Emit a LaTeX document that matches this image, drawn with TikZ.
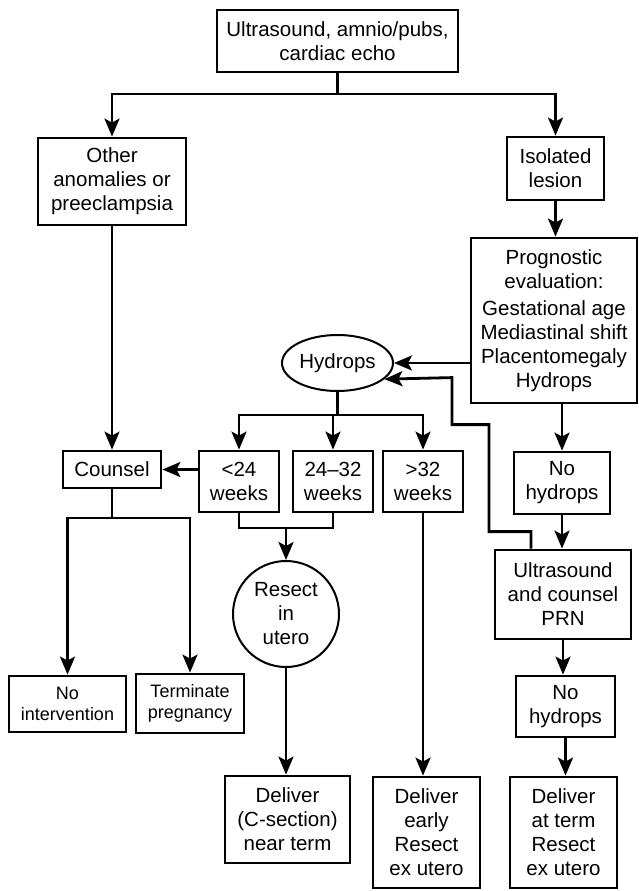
\documentclass[tikz,border=0pt]{standalone}
\usepackage{fontspec}
\setmainfont{Liberation Sans}
\usetikzlibrary{arrows.meta,calc,shapes.geometric}

\begin{document}
\begin{tikzpicture}[x=1pt, y=-1pt, >={Stealth[length=18pt,width=15pt,inset=4pt]},
		line width=2.8pt, font=\fontsize{20.5}{24}\selectfont,
		box/.style={draw, rectangle, align=center, inner sep=0pt},
		wh/.style 2 args={minimum width=#1, minimum height=#2},
		small/.style={font=\fontsize{18}{21}\selectfont}]
	\useasboundingbox (0,0) rectangle (639,891);
	% top of the chart
	\node[box, wh={241pt}{62pt}] (top) at (337.5,41) {Ultrasound, amnio/pubs,\\cardiac echo};
	\node[box, wh={148pt}{87pt}] (other) at (112,181.5) {Other\\anomalies or\\preeclampsia};
	\node[box, wh={97pt}{63pt}] (isolated) at (555.5,168.5) {Isolated\\lesion};
	\node[box, wh={166pt}{165pt}] (prog) at (554,320.5) {Prognostic\\evaluation:\\[3pt]Gestational age\\Mediastinal shift\\Placentomegaly\\Hydrops};
	\node[draw, ellipse, line width=2pt, inner sep=0pt, wh={111pt}{56pt}] (hydrops) at (337.5,363) {Hydrops};
	% middle row
	\node[box, wh={98pt}{37pt}] (counsel) at (112,469.5) {Counsel};
	\node[box, wh={80pt}{61pt}] (lt24) at (239,481.5) {<24\\weeks};
	\node[box, wh={80pt}{61pt}] (mid) at (333,481.5) {24--32\\weeks};
	\node[box, wh={80pt}{61pt}] (gt32) at (423,481.5) {>32\\weeks};
	\node[box, wh={96pt}{62pt}] (nohyd1) at (562,483) {No\\hydrops};
	\node[box, wh={136pt}{89pt}] (uscounsel) at (563,594.5) {Ultrasound\\and counsel\\PRN};
	\node[draw, circle, line width=2pt, inner sep=0pt, minimum size=106pt, align=center] (resect) at (286,614) {Resect\\in\\utero};
	% bottom row
	\node[box, small, wh={117pt}{56pt}] (noint) at (67.5,704) {No\\intervention};
	\node[box, small, wh={108pt}{59pt}] (term) at (190,703.5) {Terminate\\pregnancy};
	\node[box, wh={99pt}{61pt}] (nohyd2) at (565.5,706.5) {No\\hydrops};
	\node[box, wh={125pt}{87pt}] (delcs) at (287.5,819.5) {Deliver\\(C-section)\\near term};
	\node[box, wh={107pt}{111pt}] (delearly) at (426.5,832.5) {Deliver\\early\\Resect\\ex utero};
	\node[box, wh={107pt}{111pt}] (delterm) at (563.5,832.5) {Deliver\\at term\\Resect\\ex utero};

	% branch points
	\coordinate (split1) at (337.5,94);
	\coordinate (split2) at (337.5,415);
	\coordinate (split3) at (112,518);
	\coordinate (merge) at (286,528);

	\draw (top.south) -- (split1);
	\draw[->] (split1) -| (other.north);
	\draw[->] (split1) -| (isolated.north);
	\draw[->] (isolated.south) -- (isolated.south |- prog.north);
	\draw[->] (prog.west |- hydrops) -- (hydrops.east);
	\draw[->] (nohyd1.north |- prog.south) -- (nohyd1.north);
	\draw[->] (nohyd1.south) -- (uscounsel.north -| nohyd1.south);
	\draw[->] ($(uscounsel.north)+(-32,0)$) -- ++(0,-17) -- ++(-42,0) -- ++(0,-107)
		-- ++(-37,0) -- ++(0,-47) -- (hydrops.-19.5);
	\draw[->] (uscounsel.south) -- (uscounsel.south |- nohyd2.north);
	\draw[->] (nohyd2.south) -- (nohyd2.south |- delterm.north);

	\draw (hydrops.south) -- (split2);
	\draw[->] (split2) -| (lt24.north);
	\draw[->] (split2) -| (gt32.north);
	\draw[->] (split2 -| mid.north) -- (mid.north);
	\draw[->] (gt32.south) -- (gt32.south |- delearly.north);
	\draw (lt24.south) |- (merge) -| (mid.south);
	\draw[->] (merge) -- (resect.north);
	\draw[->] (resect.south) -- (resect.south |- delcs.north);

	\draw[->] (other.south) -- (counsel.north);
	\draw[->] (lt24.west |- counsel.east) -- (counsel.east);
	\draw (counsel.south) -- (split3);
	\draw[->] (split3) -| (noint.north);
	\draw[->] (split3) -| (term.north);
\end{tikzpicture}
\end{document}
